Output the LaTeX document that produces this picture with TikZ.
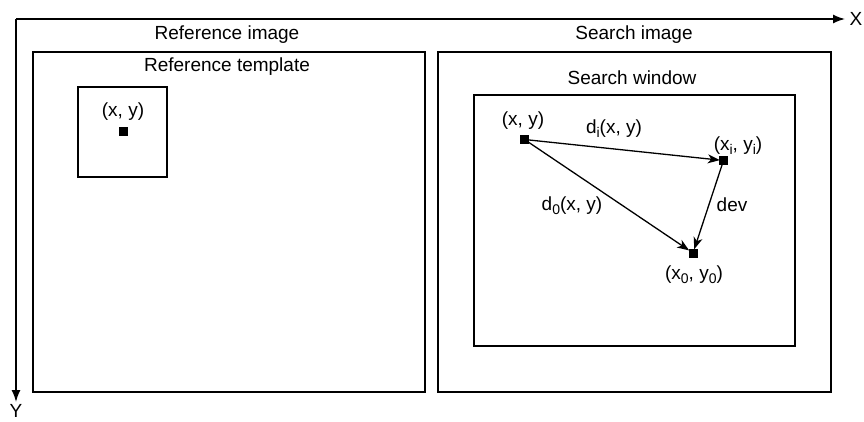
\documentclass[tikz,border=0pt]{standalone}
\usepackage{fontspec}
\setmainfont{Liberation Sans}
\usetikzlibrary{arrows.meta}
\newcommand{\lowidx}[1]{\raisebox{-0.35ex}{\fontsize{14}{14}\selectfont #1}}
\begin{document}
\begin{tikzpicture}[x=1pt,y=-1pt,
  lbl/.style={inner sep=0pt,font=\fontsize{19}{22}\selectfont},
  frame/.style={draw,line width=1.6pt},
  pix/.style={fill=black,minimum size=9pt,inner sep=0pt},
  axis/.style={line width=1.5pt,-{Latex[length=12pt,width=9pt]}},
  vec/.style={line width=1.3pt,-{Stealth[length=12pt,width=9pt,inset=3.5pt]},shorten >=-1pt}]
\useasboundingbox (0,0) rectangle (864,421);
% axes
\coordinate (O) at (16,19);
\coordinate (xend) at (845,19);
\coordinate (yend) at (16,402);
\draw[axis] (O) -- (xend);
\draw[axis] (O) -- (yend);
\node[lbl] (xl) at (856,19) {X};
\node[lbl] (yl) at (16,411) {Y};
% image frames
\draw[frame] (33,52) rectangle (425,392);
\draw[frame] (438,52) rectangle (831,392);
\node[lbl] (refimg) at (227,35) {Reference image};
\node[lbl] (srchimg) at (634,35) {Search image};
\node[lbl] (reftpl) at (227,67) {Reference template};
\node[lbl] (srchwin) at (632,78) {Search window};
% template and search window
\draw[frame] (78,87) rectangle (167,177);
\draw[frame] (474,95) rectangle (795,346);
\node[pix] (t) at (123.5,131.5) {};
\node[lbl] (tl) at (123,112) {(x, y)};
% points in the search window
\node[pix] (p) at (524.5,139.5) {};
\node[pix] (pi) at (723.5,160.5) {};
\node[pix] (p0) at (693,253) {};
\node[lbl] (pl) at (523,121) {(x, y)};
\node[lbl] (pil) at (738,146) {(x\lowidx{i}, y\lowidx{i})};
\node[lbl] (p0l) at (694,275) {(x\lowidx{0}, y\lowidx{0})};
\draw[vec] (p.center) -- (pi);
\draw[vec] (p.center) -- (p0);
\draw[vec] (pi.center) -- (p0);
\node[lbl] (dil) at (614,129) {d\lowidx{i}(x, y)};
\node[lbl] (d0l) at (572,206) {d\lowidx{0}(x, y)};
\node[lbl] (devl) at (732,205) {dev};
\end{tikzpicture}
\end{document}
